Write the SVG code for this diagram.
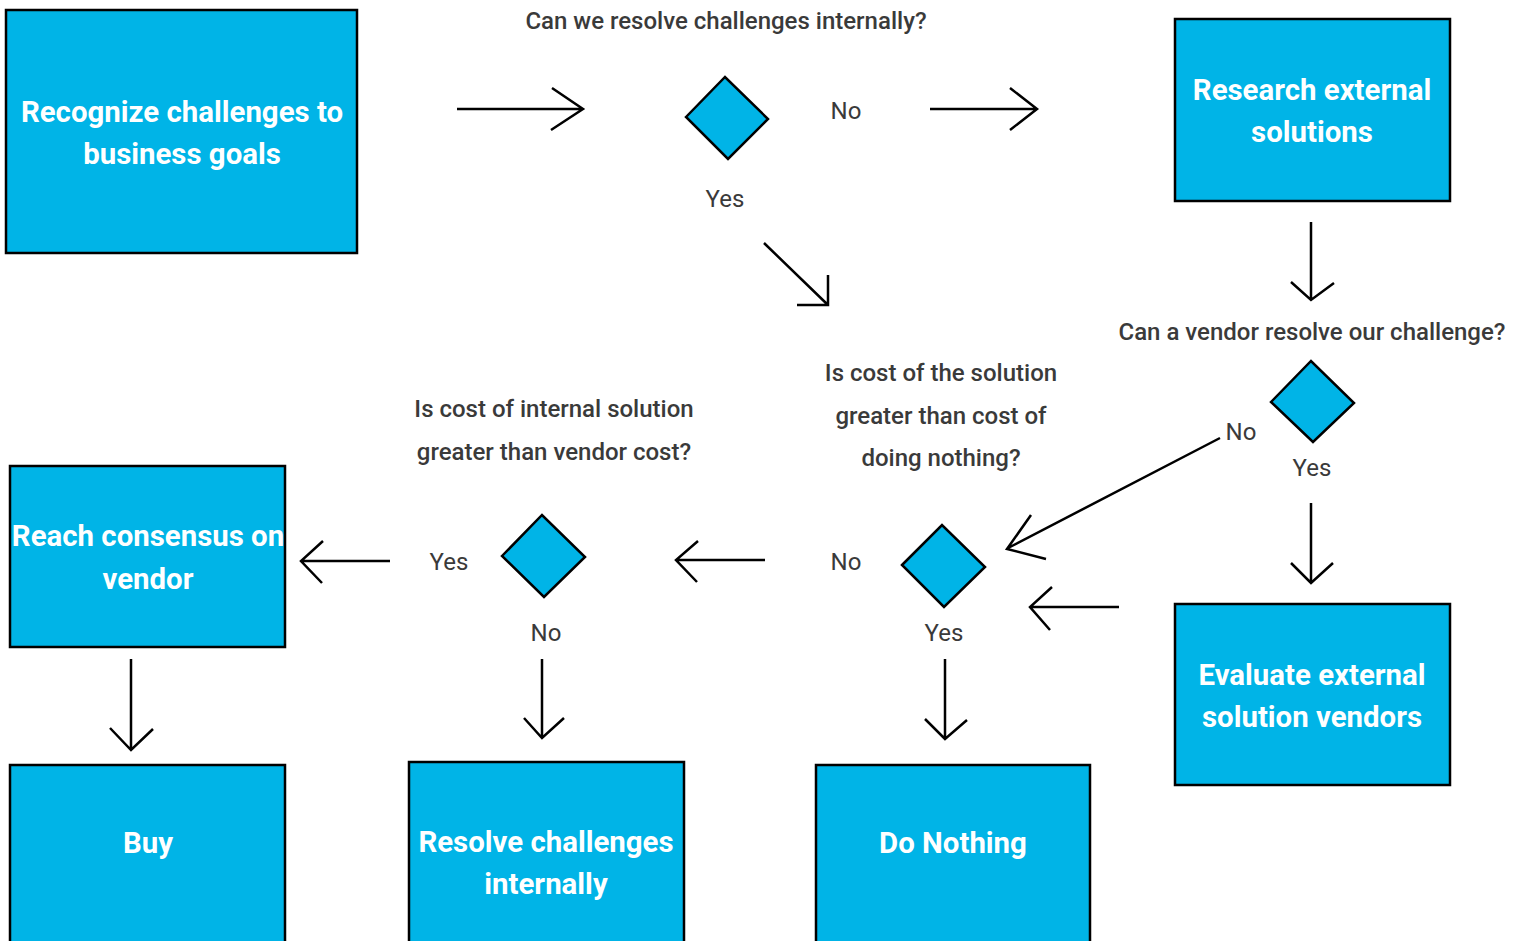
<svg xmlns="http://www.w3.org/2000/svg" width="1520" height="941" viewBox="0 0 1520 941">
<style>
.box{fill:#00B4E7;stroke:#000;stroke-width:2.5}
.dia{fill:#00B4E7;stroke:#000;stroke-width:2.5;stroke-linejoin:miter}
.bt{font-family:Roboto,"Liberation Sans",sans-serif;font-weight:700;font-size:29.4px;fill:#fff;text-anchor:middle}
.q{font-family:Roboto,"Liberation Sans",sans-serif;font-weight:500;font-size:24px;fill:#3a3a3a;text-anchor:middle}
.yn{font-family:Roboto,"Liberation Sans",sans-serif;font-weight:400;font-size:24px;fill:#3a3a3a;text-anchor:middle}
.c{fill:none;stroke:#000;stroke-width:2.5;stroke-linecap:butt;stroke-linejoin:miter}
</style>
<rect width="1520" height="941" fill="#fff"/>
<g id="recognize"><rect class="box" x="6" y="10" width="351" height="243"/><text class="bt" x="182" y="122">Recognize challenges to</text><text class="bt" x="182" y="164">business goals</text></g>
<g id="research"><rect class="box" x="1175" y="19" width="275" height="182"/><text class="bt" x="1312" y="100">Research external</text><text class="bt" x="1312" y="142">solutions</text></g>
<g id="evaluate"><rect class="box" x="1175" y="604" width="275" height="181"/><text class="bt" x="1312" y="685">Evaluate external</text><text class="bt" x="1312" y="727">solution vendors</text></g>
<g id="reach"><rect class="box" x="10" y="466" width="275" height="181"/><text class="bt" x="148" y="546">Reach consensus on</text><text class="bt" x="148" y="589">vendor</text></g>
<g id="buy"><rect class="box" x="10" y="765" width="275" height="190"/><text class="bt" x="148" y="853">Buy</text></g>
<g id="resolve"><rect class="box" x="409" y="762" width="275" height="190"/><text class="bt" x="546" y="852">Resolve challenges</text><text class="bt" x="546" y="894">internally</text></g>
<g id="nothing"><rect class="box" x="816" y="765" width="274" height="190"/><text class="bt" x="953" y="853">Do Nothing</text></g>
<g id="q1"><text class="q" x="726" y="29">Can we resolve challenges internally?</text><polygon class="dia" points="686,117 725,77 768,119 728,159"/><text class="yn" x="846" y="119">No</text><text class="yn" x="725" y="207">Yes</text></g>
<g id="q2"><text class="q" x="1312" y="340">Can a vendor resolve our challenge?</text><polygon class="dia" points="1271,402 1311,361 1354,403 1313,442"/><text class="yn" x="1241" y="440">No</text><text class="yn" x="1312" y="476">Yes</text></g>
<g id="q3"><text class="q" x="941" y="381">Is cost of the solution</text><text class="q" x="941" y="424">greater than cost of</text><text class="q" x="941" y="466">doing nothing?</text><polygon class="dia" points="902,565 942,525 985,567 944,607"/><text class="yn" x="846" y="570">No</text><text class="yn" x="944" y="641">Yes</text></g>
<g id="q4"><text class="q" x="554" y="417">Is cost of internal solution</text><text class="q" x="554" y="460">greater than vendor cost?</text><polygon class="dia" points="502,556 542,515 585,557 544,597"/><text class="yn" x="449" y="570">Yes</text><text class="yn" x="546" y="641">No</text></g>
<g id="connectors">
<path class="c" d="M457,109H583M552,88L583,109L551,130"/>
<path class="c" d="M930,109H1037M1010,88L1037,109L1010,130"/>
<path class="c" d="M764,243L828,305M828,275V305H797"/>
<path class="c" d="M1311,222V300M1291,282L1311,300L1334,283"/>
<path class="c" d="M1311,503V583M1291,563L1311,583L1333,563"/>
<path class="c" d="M1220,438L1008,548M1031,515L1007,549L1046,559"/>
<path class="c" d="M1119,607H1030M1052,587L1030,607L1050,630"/>
<path class="c" d="M765,560H676M698,541L676,560L697,582"/>
<path class="c" d="M390,561H301M323,541L301,561L322,583"/>
<path class="c" d="M131,659V750M110,728L131,750L153,729"/>
<path class="c" d="M542,659V738M524,718L542,738L564,718"/>
<path class="c" d="M945,659V739M925,719L945,739L967,720"/>
</g>
</svg>
